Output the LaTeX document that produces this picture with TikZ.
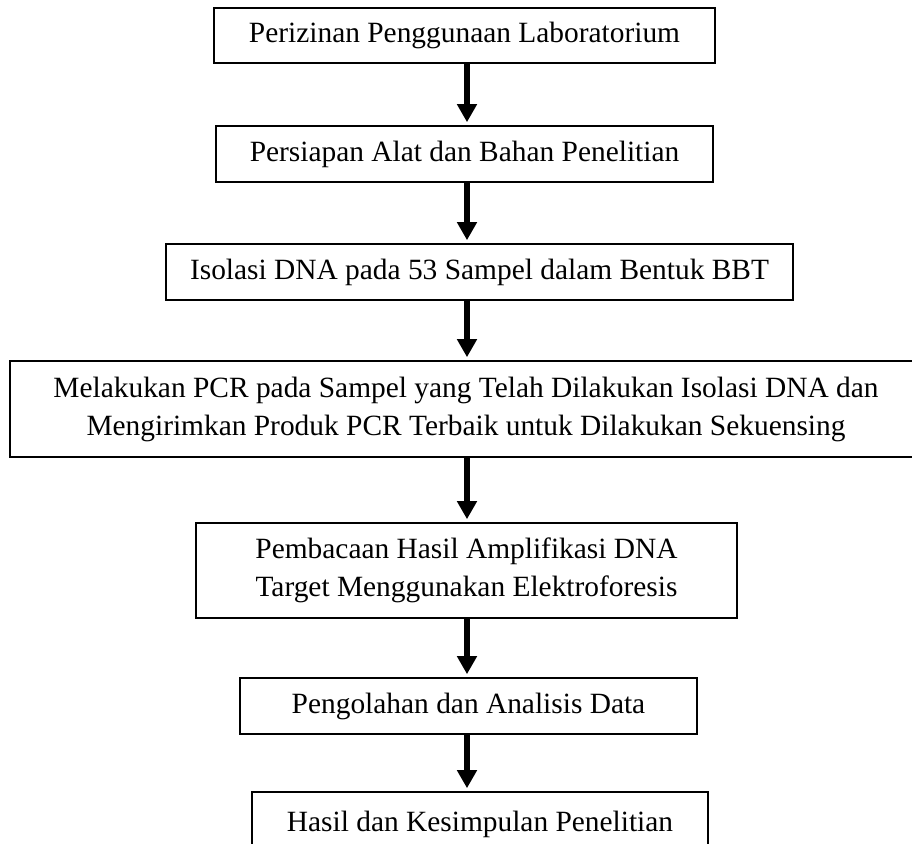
\documentclass[tikz,border=0pt]{standalone}
\usepackage{fontspec}
\setmainfont{Liberation Serif}
\usepackage{tikz}
\usetikzlibrary{arrows.meta}

\begin{document}
\begin{tikzpicture}[x=0.5pt,y=-0.5pt,
	kotak/.style={draw,line width=0.8pt,rectangle,inner sep=0pt,align=center,font=\fontsize{14.7}{19}\selectfont},
	panah/.style={line width=3pt,-{Triangle[length=9pt,width=9.5pt]},shorten >=1.5pt}]
	\useasboundingbox (0,0) rectangle (912,843);
	\clip (0,0) rectangle (912,843);
	\coordinate (sumbu) at (467,0);
	\draw (464.5,35.5) node(p1) [kotak,minimum width=250.5pt,minimum height=27.5pt] {Perizinan Penggunaan Laboratorium};
	\draw (464.5,154) node(p2) [kotak,minimum width=248.5pt,minimum height=28pt] {Persiapan Alat dan Bahan Penelitian};
	\draw (479.5,272) node(p3) [kotak,minimum width=313.5pt,minimum height=28pt] {Isolasi DNA pada 53 Sampel dalam Bentuk BBT};
	\draw (466,409) node(p4) [kotak,minimum width=456pt,minimum height=48pt] {Melakukan PCR pada Sampel yang Telah Dilakukan Isolasi DNA dan\\Mengirimkan Produk PCR Terbaik untuk Dilakukan Sekuensing};
	\draw (466.5,570.5) node(p5) [kotak,minimum width=270.5pt,minimum height=47.5pt] {Pembacaan Hasil Amplifikasi DNA\\Target Menggunakan Elektroforesis};
	\draw (468.5,706) node(p6) [kotak,minimum width=228.5pt,minimum height=28pt] {Pengolahan dan Analisis Data};
	\draw (480,824) node(p7) [kotak,minimum width=228pt,minimum height=32pt] {Hasil dan Kesimpulan Penelitian};
	\path[draw,panah] (p1.south -| sumbu) -- (p2.north -| sumbu);
	\path[draw,panah] (p2.south -| sumbu) -- (p3.north -| sumbu);
	\path[draw,panah] (p3.south -| sumbu) -- (p4.north -| sumbu);
	\path[draw,panah] (p4.south -| sumbu) -- (p5.north -| sumbu);
	\path[draw,panah] (p5.south -| sumbu) -- (p6.north -| sumbu);
	\path[draw,panah] (p6.south -| sumbu) -- (p7.north -| sumbu);
\end{tikzpicture}
\end{document}
